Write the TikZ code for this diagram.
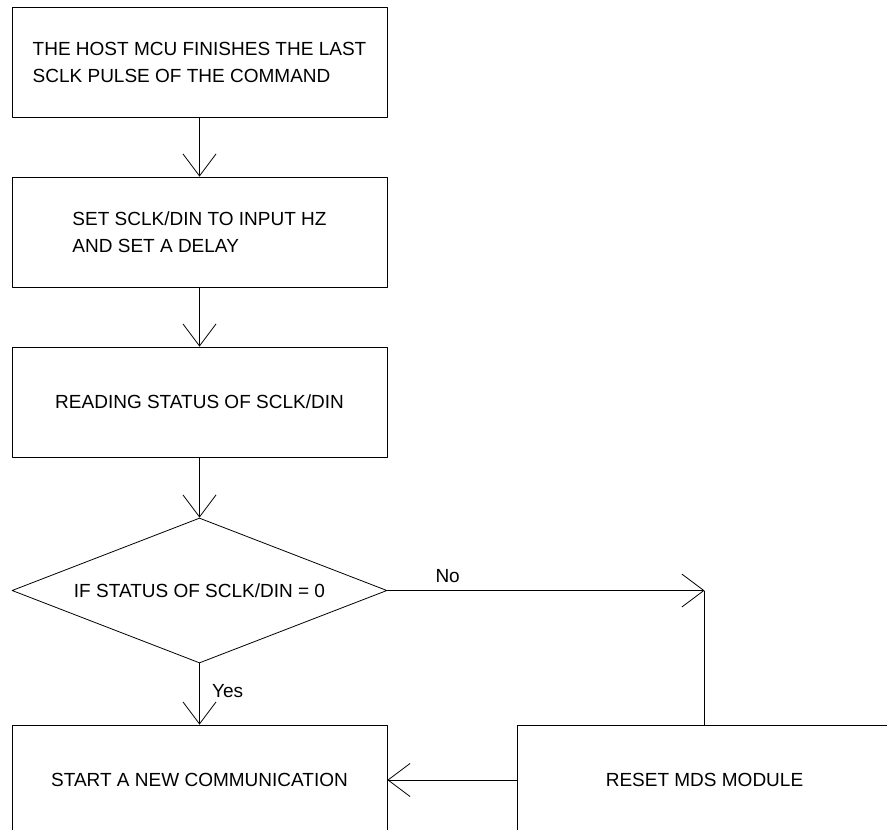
\documentclass[tikz,border=0pt]{standalone}
\usepackage{fontspec}
\setmainfont{Liberation Sans}
\usetikzlibrary{shapes.geometric,arrows.meta}
\begin{document}
\begin{tikzpicture}[x=1pt, y=-1pt, font=\fontsize{19}{27}\selectfont, line join=round, line width=0.8pt, >={Straight Barb[length=22pt,width=33pt]},
	stepbox/.style={draw, rectangle, minimum width=375pt, minimum height=110pt, inner sep=0pt, align=left},
	testbox/.style={draw, diamond, aspect=2.6, minimum width=375pt, minimum height=145pt, inner sep=0pt}]
	\useasboundingbox (0,0) rectangle (887,830);
	\clip (0,0) rectangle (887,830);
	\node[stepbox] (finish) at (199.5,62) {THE HOST MCU FINISHES THE LAST\\SCLK PULSE OF THE COMMAND};
	\node[stepbox] (setin) at (199.5,232) {SET SCLK/DIN TO INPUT HZ\\AND SET A DELAY};
	\node[stepbox] (read) at (199.5,402) {READING STATUS OF SCLK/DIN};
	\node[testbox] (check) at (199.5,590.5) {IF STATUS OF SCLK/DIN = 0};
	\node[stepbox] (start) at (199.5,780) {START A NEW COMMUNICATION};
	\node[stepbox] (reset) at (704.5,780) {RESET MDS MODULE};
	\coordinate (corner) at (reset.north |- check.east);
	\draw[->] (finish) -- (setin);
	\draw[->] (setin) -- (read);
	\draw[->] (read) -- (check);
	\draw[->] (check) -- node[right=9pt, pos=0.45]{Yes} (start);
	\draw[->] (check.east) -- node[above=4pt, pos=0.19]{No} (corner);
	\draw (corner) -- (reset.north);
	\draw[->] (reset) -- (start);
\end{tikzpicture}
\end{document}
